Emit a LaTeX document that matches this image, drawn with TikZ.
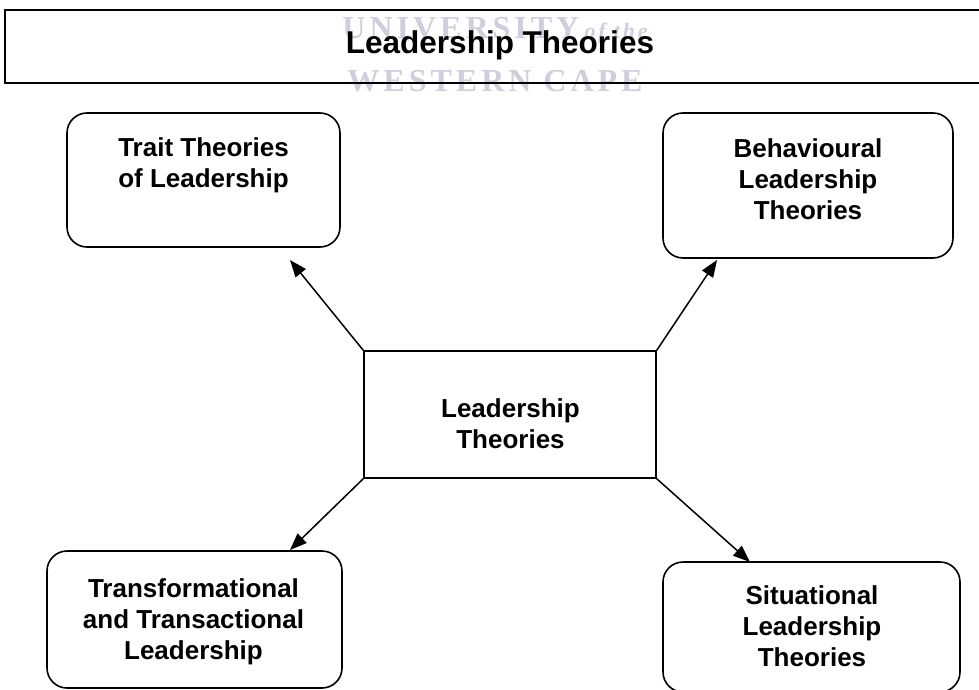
\documentclass[tikz,border=0pt]{standalone}
\usepackage{fontspec}
\setmainfont{Liberation Sans}
\newfontfamily\wmfont[LetterSpace=12.5]{Liberation Serif}
\usetikzlibrary{arrows.meta}
\definecolor{wm}{HTML}{CDD0DC}
\tikzset{
  box/.style={draw, line width=1.6pt, rounded corners=20pt, inner sep=0pt},
  sqbox/.style={draw, line width=1.6pt, inner sep=0pt},
  lbl/.style={align=center, font=\fontsize{26}{31}\selectfont\bfseries, inner sep=0pt},
  wmtext/.style={text=wm, inner sep=0pt},
  arr/.style={-{Triangle[length=17pt,width=13pt]}, line width=1.5pt},
}
\begin{document}
\begin{tikzpicture}[x=1pt,y=-1pt]
\useasboundingbox (0,0) rectangle (979,690);
% watermark
\node[wmtext, font=\wmfont\bfseries\fontsize{32}{34}\selectfont] (wm1) at (495,30)
  {UNIVERSITY\,{\itshape\fontsize{22}{24}\selectfont of the}};
\node[wmtext, font=\wmfont\bfseries\fontsize{32}{34}\selectfont] (wm2) at (495,81) {WESTERN CAPE};
% title
\node[sqbox, line width=2pt, minimum width=990pt, minimum height=73pt] (title) at (500,46.5) {};
\node[inner sep=0pt, font=\fontsize{31.5}{36}\selectfont\bfseries] (titleT) at (500,45) {Leadership Theories};
% boxes
\node[box, minimum width=273pt, minimum height=134pt] (trait) at (203.5,180) {};
\node[lbl] (traitT) at (203.5,165) {Trait Theories\\of Leadership};
\node[box, minimum width=290pt, minimum height=145pt] (behav) at (808,185.5) {};
\node[lbl] (behavT) at (808,179) {Behavioural\\Leadership\\Theories};
\node[sqbox, minimum width=292pt, minimum height=127pt] (core) at (510,414.5) {};
\node[lbl] (coreT) at (510.5,423.5) {Leadership\\Theories};
\node[box, minimum width=295pt, minimum height=137pt] (trans) at (194.5,619.5) {};
\node[lbl] (transT) at (193.5,622) {Transformational\\and Transactional\\Leadership};
\node[box, minimum width=297pt, minimum height=130pt] (situ) at (811.5,627) {};
\node[lbl] (situT) at (812,626) {Situational\\Leadership\\Theories};
% arrow ends
\coordinate (e1) at (290,260);
\coordinate (e2) at (717,260);
\coordinate (e3) at (290,550);
\coordinate (e4) at (750,562);
\draw[arr] (core.north west) -- (e1);
\draw[arr] (core.north east) -- (e2);
\draw[arr] (core.south west) -- (e3);
\draw[arr] (core.south east) -- (e4);
\end{tikzpicture}
\end{document}
